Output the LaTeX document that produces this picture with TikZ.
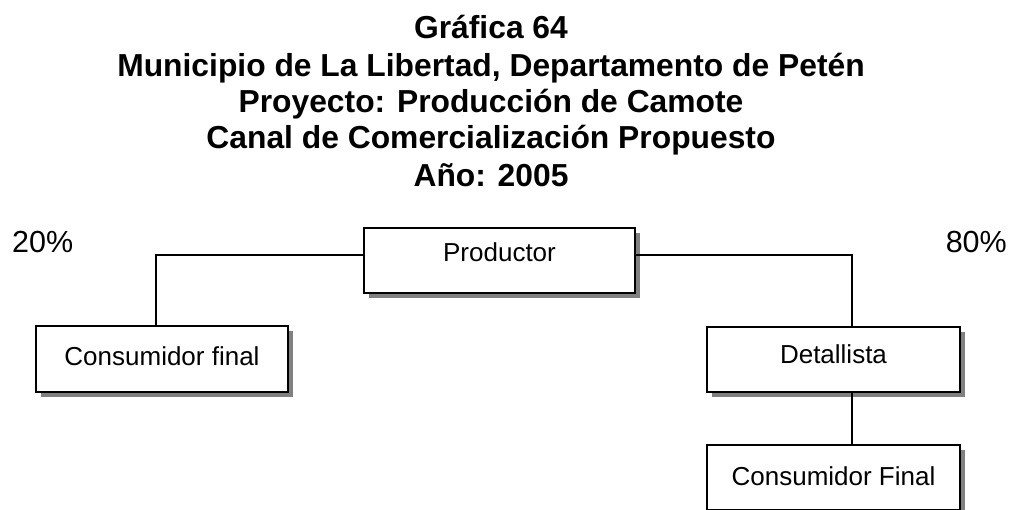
\documentclass[tikz,border=0pt]{standalone}
\usepackage{fontspec}
\setmainfont{Liberation Sans}
\usetikzlibrary{shadows}
\begin{document}
\begin{tikzpicture}[x=1pt,y=-1pt,
  titletext/.style={anchor=base,font=\fontsize{31.8}{36}\selectfont\bfseries,inner sep=0pt},
  pcttext/.style={anchor=base west,font=\fontsize{30.5}{34}\selectfont,inner sep=0pt},
  chanbox/.style={draw=black,line width=2pt,fill=white,rectangle,inner sep=0pt,
    font=\fontsize{26}{30}\selectfont,text height=14pt,text depth=6pt,
    drop shadow={shadow xshift=5pt,shadow yshift=-5pt,fill=black!50,opacity=1}},
  link/.style={draw=black,line width=1.4pt}]
\useasboundingbox (0,0) rectangle (1012,509);
\begin{scope}
\clip (0,0) rectangle (1012,509);
\node[titletext] (t1) at (491,38) {Gráfica 64};
\node[titletext] (t2) at (491,76) {Municipio de La Libertad, Departamento de Petén};
\node[titletext] (t3) at (491,112) {Proyecto: Producción de Camote};
\node[titletext] (t4) at (491,148) {Canal de Comercialización Propuesto};
\node[titletext] (t5) at (491,186) {Año: 2005};
\node[pcttext] (p20) at (12,252) {20\%};
\node[pcttext,anchor=base east] (p80) at (1007,252) {80\%};

\node[chanbox,minimum width=271pt,minimum height=65pt,text height=11pt,text depth=10pt] (prod) at (499.5,260.5) {Productor};
\node[chanbox,minimum width=252pt,minimum height=66pt,text height=17pt,text depth=5pt] (cf1) at (162,359) {Consumidor final};
\node[chanbox,minimum width=253pt,minimum height=65pt] (det) at (833.5,359.5) {Detallista};
\node[chanbox,minimum width=253pt,minimum height=65pt,text height=17pt,text depth=2pt] (cf2) at (833.5,477.5) {Consumidor Final};

\coordinate (lc) at (156,255);
\coordinate (rc) at (852,255);
\draw[link] (prod.west |- lc) -- (lc) -- (lc |- cf1.north);
\draw[link] (prod.east |- rc) -- (rc) -- (rc |- det.north);
\draw[link] (det.south -| rc) -- (cf2.north -| rc);
\end{scope}
\end{tikzpicture}
\end{document}
